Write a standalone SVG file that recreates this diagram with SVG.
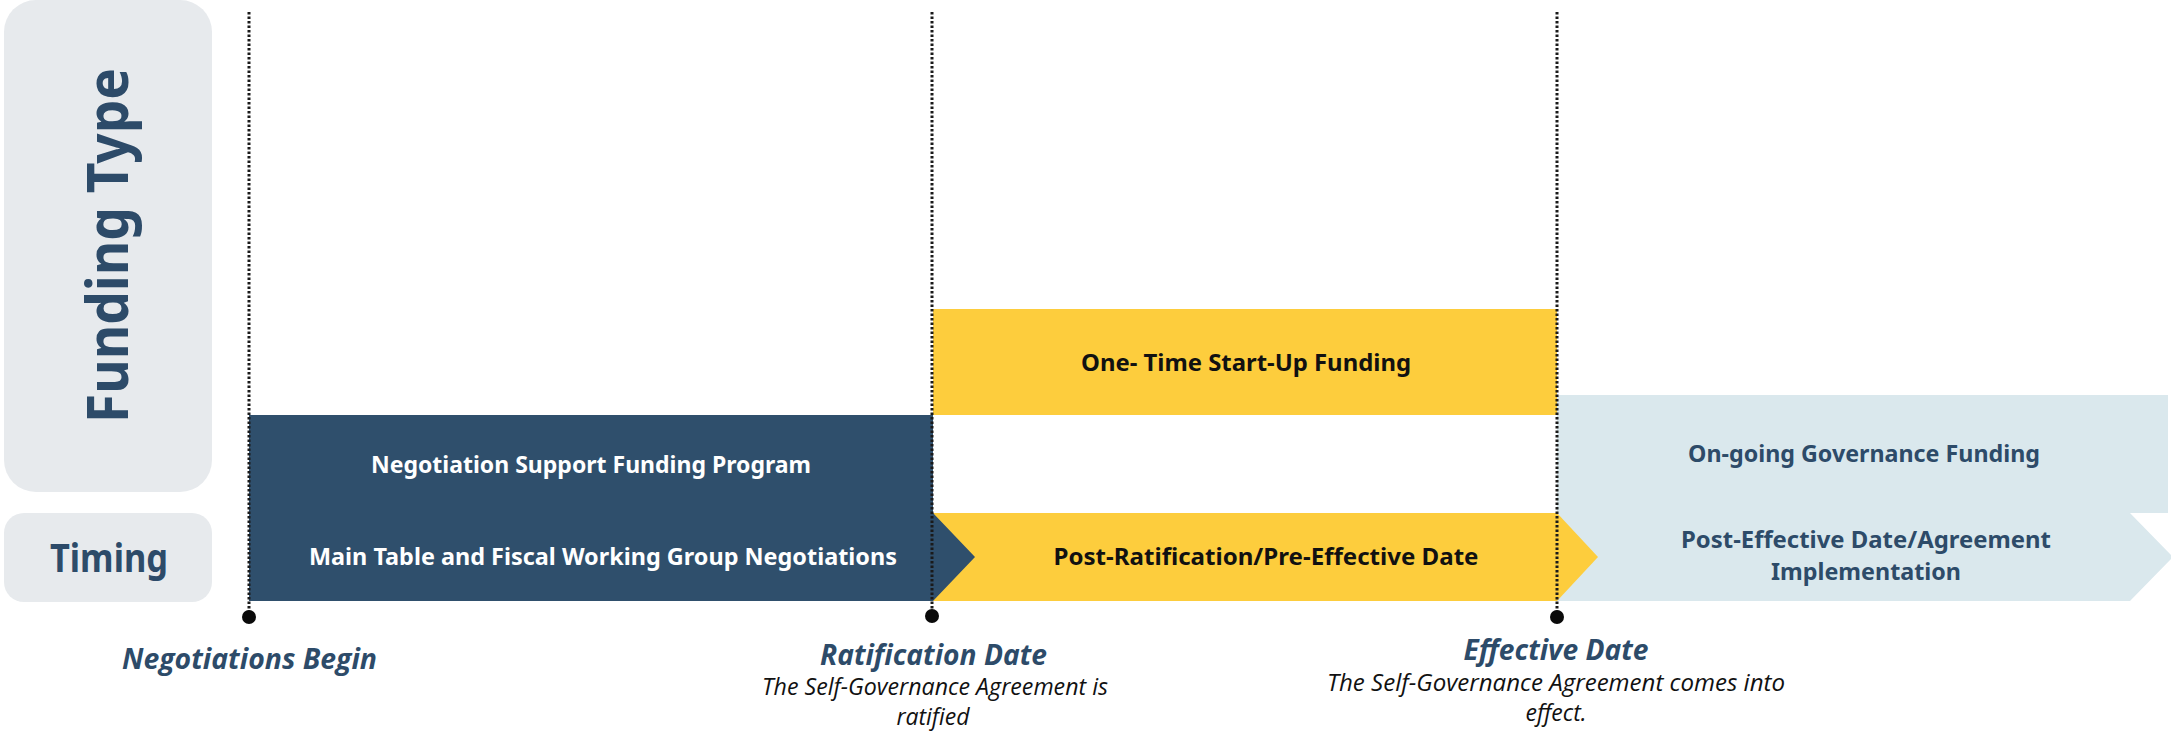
<svg xmlns="http://www.w3.org/2000/svg" width="2171" height="735" viewBox="0 0 2171 735">
<defs>
<style>
.lbl{font-family:"Noto Sans","Open Sans","Liberation Sans",sans-serif;font-weight:700;text-anchor:middle}
.hdr{fill:#2d4b69}
.wht{fill:#ffffff;font-size:24px}
.blk{fill:#111111;font-size:24px}
.nav{fill:#2d4b69;font-size:24px}
.ms{font-family:"Open Sans","Noto Sans","Liberation Sans",sans-serif;font-style:italic;font-weight:700;fill:#2d4b69;font-size:29px;text-anchor:middle}
.sub{font-family:"Open Sans","Noto Sans","Liberation Sans",sans-serif;font-style:italic;font-weight:400;fill:#111111;font-size:23px;text-anchor:middle}
.dot-line{stroke:#1a1a1a;stroke-width:3;stroke-dasharray:2.5 2;fill:none}
.pin{fill:#0a0a0a}
</style>
</defs>
<rect width="2171" height="735" fill="#ffffff"/>

<g id="funding-type-label">
<rect x="4" y="0" width="208" height="492" rx="32" ry="32" fill="#e7eaed"/>
<text class="lbl hdr" transform="translate(128,245.5) rotate(-90)" x="0" y="0" font-size="57" textLength="355" lengthAdjust="spacingAndGlyphs">Funding Type</text>
</g>

<g id="timing-label">
<rect x="4" y="513" width="208" height="89" rx="20" ry="20" fill="#e7eaed"/>
<text class="lbl hdr" x="109" y="572" font-size="40" textLength="118" lengthAdjust="spacingAndGlyphs">Timing</text>
</g>

<g id="ongoing-bar">
<polygon points="1557,395 2168,395 2168,513 2130,513 2173,557 2130,601 1557,601" fill="#dae8ed"/>
<text class="lbl nav" x="1864" y="462" textLength="352" lengthAdjust="spacingAndGlyphs">On-going Governance Funding</text>
<text class="lbl nav" x="1866" y="548" textLength="370" lengthAdjust="spacingAndGlyphs">Post-Effective Date/Agreement</text>
<text class="lbl nav" x="1866" y="580" textLength="190" lengthAdjust="spacingAndGlyphs">Implementation</text>
</g>

<g id="post-ratification-bar">
<polygon points="933,513 1557,513 1598,557 1557,601 933,601" fill="#fdcd3d"/>
<text class="lbl blk" x="1266" y="565" textLength="425" lengthAdjust="spacingAndGlyphs">Post-Ratification/Pre-Effective Date</text>
</g>

<g id="startup-bar">
<rect x="933" y="309" width="624" height="106" fill="#fdcd3d"/>
<text class="lbl blk" x="1246" y="371" textLength="330" lengthAdjust="spacingAndGlyphs">One- Time Start-Up Funding</text>
</g>

<g id="negotiation-bar">
<polygon points="249,415 933,415 933,513 975,557 933,601 249,601" fill="#2f4f6c"/>
<text class="lbl wht" x="591" y="473" textLength="440" lengthAdjust="spacingAndGlyphs">Negotiation Support Funding Program</text>
<text class="lbl wht" x="603" y="565" textLength="588" lengthAdjust="spacingAndGlyphs">Main Table and Fiscal Working Group Negotiations</text>
</g>

<g id="connectors">
<line class="dot-line" x1="249" y1="12" x2="249" y2="612"/>
<line class="dot-line" x1="932" y1="12" x2="932" y2="612"/>
<line class="dot-line" x1="1557" y1="12" x2="1557" y2="612"/>
<circle class="pin" cx="249" cy="617" r="7"/>
<circle class="pin" cx="932" cy="616" r="7"/>
<circle class="pin" cx="1557" cy="617" r="7"/>
</g>

<g id="m-negotiations">
<text class="ms" x="249.5" y="669" textLength="255" lengthAdjust="spacingAndGlyphs">Negotiations Begin</text>
</g>

<g id="m-ratification">
<text class="ms" x="933.5" y="665" textLength="227" lengthAdjust="spacingAndGlyphs">Ratification Date</text>
<text class="sub" x="935" y="695" textLength="346" lengthAdjust="spacingAndGlyphs">The Self-Governance Agreement is</text>
<text class="sub" x="933" y="725">ratified</text>
</g>

<g id="m-effective">
<text class="ms" x="1556" y="660" textLength="185" lengthAdjust="spacingAndGlyphs">Effective Date</text>
<text class="sub" x="1556" y="691" textLength="458" lengthAdjust="spacingAndGlyphs">The Self-Governance Agreement comes into</text>
<text class="sub" x="1556" y="721">effect.</text>
</g>
</svg>
